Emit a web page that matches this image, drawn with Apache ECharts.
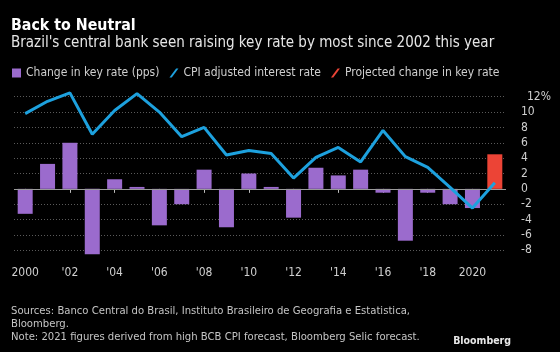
<!DOCTYPE html>
<html>
<head>
<meta charset="utf-8">
<script src="https://cdn.jsdelivr.net/npm/echarts@6/dist/echarts.min.js"></script>
<style>
  html, body { margin: 0; padding: 0; background: #000; }
  #chart { width: 560px; height: 352px; }
</style>
</head>
<body>
<div id="chart"></div>
<script>
const FONT = "'Liberation Sans Narrow', 'DejaVu Sans Condensed', sans-serif"

const years = ['2000', '2001', '2002', '2003', '2004', '2005', '2006', '2007', '2008', '2009', '2010',
  '2011', '2012', '2013', '2014', '2015', '2016', '2017', '2018', '2019', '2020', '2021']

// change in Selic target rate, percentage points
const keyRateChange = [-3.25, 3.25, 6, -8.5, 1.25, 0.25, -4.75, -2, 2.5, -5, 2, 0.25,
  -3.75, 2.75, 1.75, 2.5, -0.5, -6.75, -0.5, -2, -2.5, null]

const projectedChange = [null, null, null, null, null, null, null, null, null, null, null,
  null, null, null, null, null, null, null, null, null, null, 4.5]

const cpiAdjusted = [9.8, 11.4, 12.5, 7.1, 10.2, 12.4, 10.0, 6.8, 8.0, 4.4, 5.0, 4.6,
  1.4, 4.1, 5.4, 3.5, 7.6, 4.2, 2.8, 0.2, -2.5, 0.8]

const yTicks = { min: -8, max: 12, step: 2 }

const PURPLE = '#9b6bcd'
const BLUE = '#1da1de'
const RED = '#ec4436'
const SLASH = 'path://M0,10 L2.6,10 L10,0 L7.4,0 Z'

function yearLabel (v) {
  if (v === '2000' || v === '2020') return v
  return "'" + v.slice(2)
}

const chart = echarts.init(document.getElementById('chart'))

chart.setOption({
  backgroundColor: '#000',
  animation: false,
  title: [
    {
      text: 'Back to Neutral',
      left: 11,
      top: 18,
      padding: 0,
      textStyle: { color: '#fff', fontFamily: FONT, fontWeight: 'bold', fontSize: 15.8 }
    },
    {
      text: "Brazil's central bank seen raising key rate by most since 2002 this year",
      left: 11,
      top: 36,
      padding: 0,
      textStyle: { color: '#e6e6e6', fontFamily: FONT, fontWeight: 'normal', fontSize: 15 }
    },
    {
      text: 'Sources: Banco Central do Brasil, Instituto Brasileiro de Geografia e Estatistica,\nBloomberg.\nNote: 2021 figures derived from high BCB CPI forecast, Bloomberg Selic forecast.',
      left: 11,
      top: 305,
      padding: 0,
      textStyle: { color: '#c4c4c4', fontFamily: FONT, fontWeight: 'normal', fontSize: 11.2, lineHeight: 13 }
    },
    {
      text: 'Bloomberg',
      right: 49,
      top: 336,
      padding: 0,
      textStyle: { color: '#e8e8e8', fontFamily: FONT, fontWeight: 'bold', fontSize: 10.5 }
    }
  ],
  legend: {
    left: 12,
    top: 67,
    padding: 0,
    itemWidth: 9,
    itemHeight: 9,
    itemGap: 10,
    textStyle: { color: '#cfcfcf', fontFamily: FONT, fontSize: 12 },
    data: [
      { name: 'Change in key rate (pps)', icon: 'rect' },
      { name: 'CPI adjusted interest rate', icon: SLASH },
      { name: 'Projected change in key rate', icon: SLASH }
    ]
  },
  grid: { left: 14, right: 54, top: 96.7, bottom: 101.7 },
  xAxis: {
    type: 'category',
    data: years,
    offset: 6,
    axisLine: { show: false },
    axisTick: {
      show: true,
      interval: 1,
      alignWithLabel: true,
      length: 4,
      lineStyle: { color: '#bbb' }
    },
    axisLabel: {
      interval: 1,
      margin: 11,
      color: '#cfcfcf',
      fontFamily: FONT,
      fontSize: 12,
      formatter: yearLabel
    }
  },
  yAxis: {
    type: 'value',
    position: 'right',
    min: yTicks.min,
    max: yTicks.max,
    interval: yTicks.step,
    axisLine: { show: false },
    axisTick: { show: false },
    splitLine: { lineStyle: { color: '#5a5a5a', type: [1, 2], width: 1 } },
    axisLabel: {
      margin: 15,
      align: 'left',
      color: '#cfcfcf',
      fontFamily: FONT,
      fontSize: 12,
      formatter: v => (v === yTicks.max ? '{t|' + v + '%}' : String(v)),
      rich: {
        t: { color: '#cfcfcf', fontFamily: FONT, fontSize: 12, padding: [0, 0, 0, 6] }
      }
    }
  },
  series: [
    {
      name: 'Change in key rate (pps)',
      type: 'bar',
      data: keyRateChange,
      barWidth: 15,
      barGap: '-100%',
      clip: false,
      itemStyle: { color: PURPLE },
      markLine: {
        silent: true,
        symbol: 'none',
        label: { show: false },
        lineStyle: { color: '#9a9a9a', type: 'solid', width: 1 },
        data: [{ yAxis: 0 }]
      }
    },
    {
      name: 'Projected change in key rate',
      type: 'bar',
      data: projectedChange,
      barWidth: 15,
      clip: false,
      itemStyle: { color: RED }
    },
    {
      name: 'CPI adjusted interest rate',
      type: 'line',
      data: cpiAdjusted,
      clip: false,
      symbol: 'none',
      lineStyle: { color: BLUE, width: 3 },
      itemStyle: { color: BLUE },
      z: 5
    }
  ]
})
</script>
</body>
</html>
